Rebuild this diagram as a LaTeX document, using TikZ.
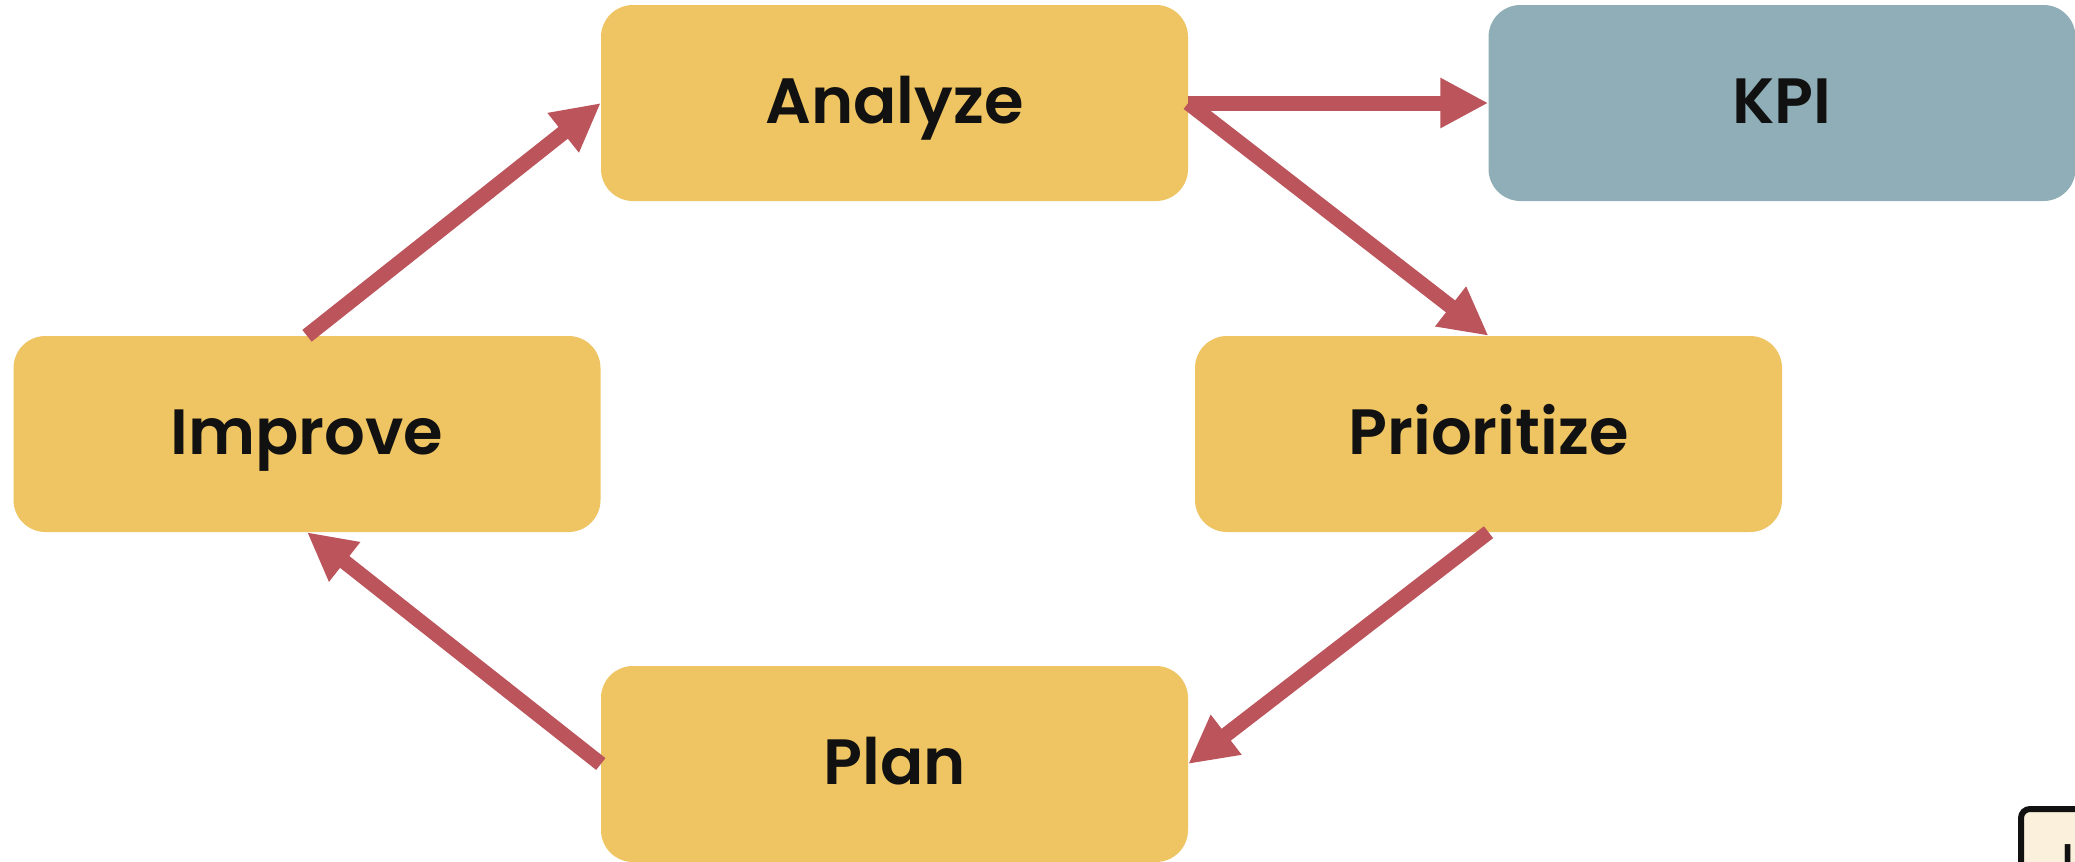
\documentclass[tikz,border=0pt]{standalone}
\usepackage{fontspec}
\setmainfont{Poppins}[BoldFont={Poppins SemiBold}]
\usetikzlibrary{arrows.meta}
\definecolor{boxyellow}{HTML}{EFC462}
\definecolor{boxblue}{HTML}{8FAEB7}
\definecolor{arrowred}{HTML}{BC545C}
\definecolor{inktext}{HTML}{111111}
\definecolor{creamfill}{HTML}{FAF0DC}
\tikzset{
  stagebox/.style={rectangle, rounded corners=32pt, minimum width=587pt, minimum height=196pt,
    inner sep=0pt, text=inktext, font=\fontsize{64}{70}\selectfont\bfseries,
    text height=40pt, text depth=0pt},
  yellowbox/.style={stagebox, fill=boxyellow},
  bluebox/.style={stagebox, fill=boxblue},
  flowarrow/.style={draw=arrowred, line width=15pt, line cap=butt,
    -{Triangle[length=48pt, width=47pt]}},
  legendbox/.style={rectangle, rounded corners=9pt, draw=inktext, line width=6pt, fill=creamfill,
    minimum width=200pt, minimum height=200pt, anchor=north west, inner sep=0pt}
}
\begin{document}
\begin{tikzpicture}[x=1pt, y=-1pt]
  \useasboundingbox (0,0) rectangle (2075,862);
  \fill[white] (0,0) rectangle (2075,862);
  \node[yellowbox] (analyze) at (894.5,103) {Analyze};
  \node[bluebox] (kpi) at (1782,103) {KPI};
  \node[yellowbox] (improve) at (307,434) {Improve};
  \node[yellowbox] (prioritize) at (1488.5,434) {Prioritize};
  \node[yellowbox] (plan) at (894.5,764) {Plan};
  \node[legendbox] (legend) at (2018,806) {};
  \node[anchor=north west, inner sep=0pt, text=inktext, font=\fontsize{40}{44}\selectfont\bfseries]
    (legendtext) at (2062,844) {I};
  \draw[flowarrow] (analyze.east) -- (kpi.west);
  \draw[flowarrow] (analyze.east) -- (prioritize.north);
  \draw[flowarrow] (prioritize.south) -- (plan.east);
  \draw[flowarrow] (plan.west) -- (improve.south);
  \draw[flowarrow] (improve.north) -- (analyze.west);
\end{tikzpicture}
\end{document}
